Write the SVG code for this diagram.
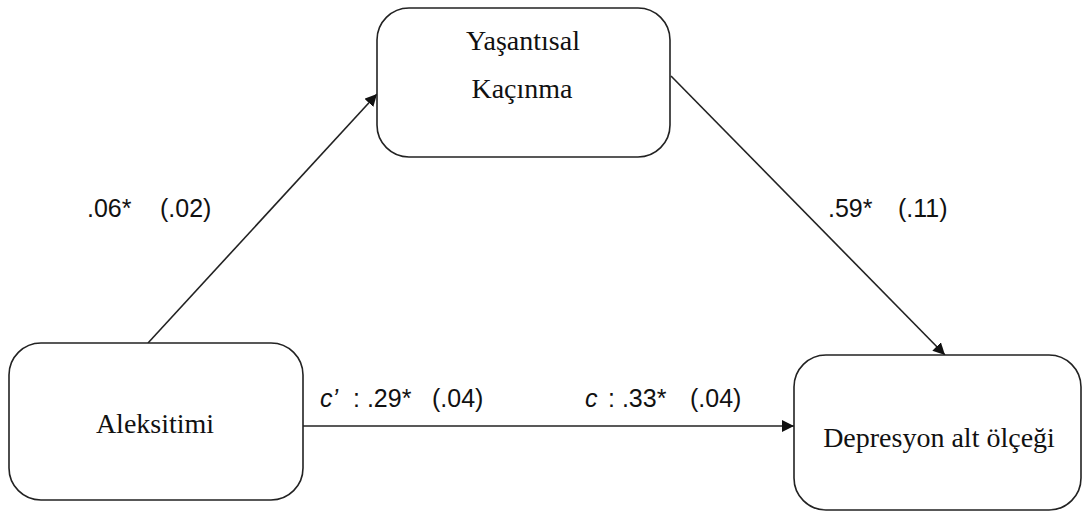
<svg xmlns="http://www.w3.org/2000/svg" width="1083" height="512" viewBox="0 0 1083 512">
<defs>
<style>
.box{fill:#fff;stroke:#222;stroke-width:1.6}
.nt{font-family:"Liberation Serif","Times New Roman",serif;font-size:28px;fill:#111;text-anchor:middle}
.lb{font-family:"Liberation Sans",Arial,sans-serif;font-size:25px;fill:#111}
.ln{stroke:#222;stroke-width:1.6;fill:none}
</style>
<marker id="ah" viewBox="0 0 10 10" refX="10" refY="5" markerWidth="12" markerHeight="12" markerUnits="userSpaceOnUse" orient="auto">
<path d="M0,0 L10,5 L0,10 z" fill="#111"/>
</marker>
</defs>
<rect width="1083" height="512" fill="#fff"/>
<g id="connectors">
<line class="ln" x1="148" y1="343" x2="377" y2="94" marker-end="url(#ah)"/>
<line class="ln" x1="671" y1="76" x2="945" y2="355" marker-end="url(#ah)"/>
<line class="ln" x1="303" y1="426" x2="794" y2="426" marker-end="url(#ah)"/>
</g>
<g id="node-yasantisal">
<rect class="box" x="377" y="8" width="293" height="149" rx="32"/>
<text class="nt" x="523" y="50">Yaşantısal</text>
<text class="nt" x="522" y="98">Kaçınma</text>
</g>
<g id="node-aleksitimi">
<rect class="box" x="9" y="343" width="294" height="157" rx="32"/>
<text class="nt" x="155" y="433">Aleksitimi</text>
</g>
<g id="node-depresyon">
<rect class="box" x="794" y="355" width="287" height="155" rx="32"/>
<text class="nt" x="939" y="447">Depresyon alt ölçeği</text>
</g>
<g id="labels">
<text class="lb" y="217"><tspan x="87">.06*</tspan><tspan x="160">(.02)</tspan></text>
<text class="lb" y="217"><tspan x="828">.59*</tspan><tspan x="898">(.11)</tspan></text>
<text class="lb" y="407"><tspan x="320" font-style="italic">c’</tspan><tspan x="353">: .29*</tspan><tspan x="432">(.04)</tspan></text>
<text class="lb" y="407"><tspan x="585" font-style="italic">c</tspan><tspan x="608">: .33*</tspan><tspan x="690">(.04)</tspan></text>
</g>
</svg>
